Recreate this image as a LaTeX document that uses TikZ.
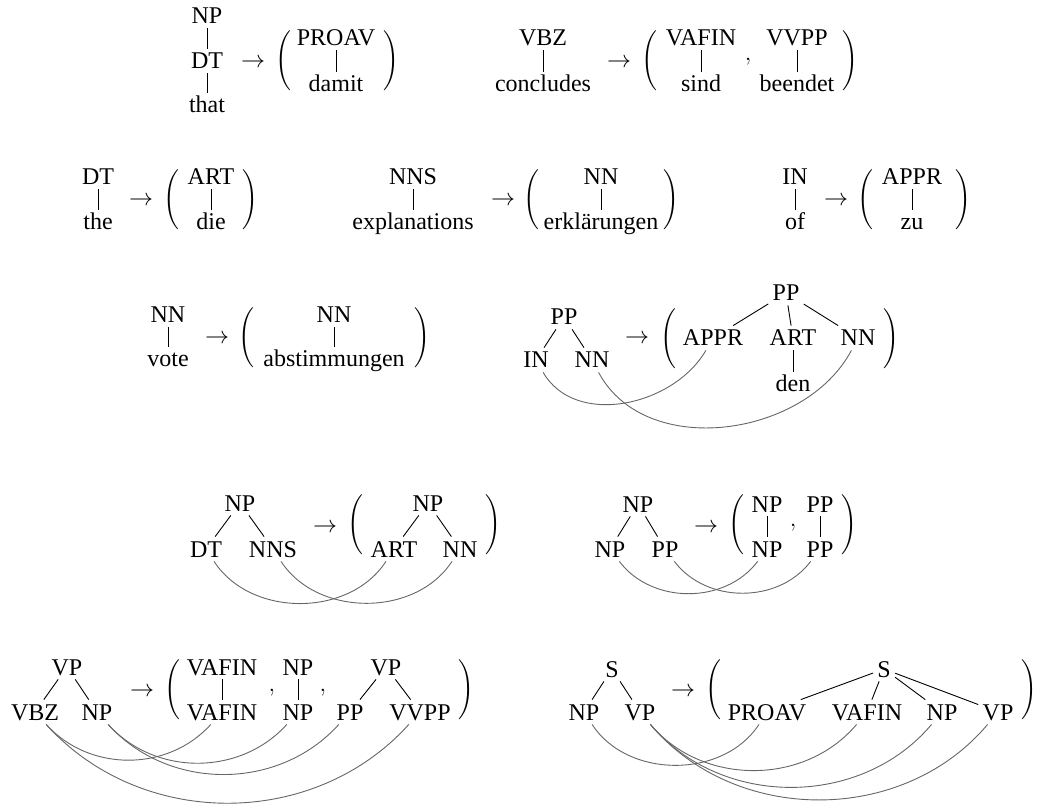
\documentclass[tikz,border=0pt]{standalone}
\usepackage{fontspec}
\setmainfont{Liberation Serif}
% large round brackets around the target side of each rule
\newcommand\mylp{$\nulldelimiterspace=0pt\left(\vcenter{\hbox{\rule{0pt}{30pt}}}\right.$}
\newcommand\myrp{$\nulldelimiterspace=0pt\left.\vcenter{\hbox{\rule{0pt}{30pt}}}\right)$}
\begin{document}
\begin{tikzpicture}[x=0.5pt,y=0.5pt,
  every node/.style={font=\fontsize{12}{14}\selectfont},
  lab/.style={inner sep=2pt, text height=8pt, text depth=0pt, anchor=base},
  arr/.style={inner sep=0pt, anchor=base},
  delim/.style={inner sep=0pt, anchor=center},
  edge/.style={draw=black, line width=0.45pt},
  link/.style={draw=black!60, line width=0.45pt}]
\useasboundingbox (0,0) rectangle (1037,-806);

% ---------- NP/DT/that -> PROAV/damit ----------
\node[lab] (r1np) at (207,-24) {NP};
\node[lab] (r1dt) at (207,-69) {DT};
\node[lab] (r1that) at (207,-113) {that};
\node[arr] (r1arr) at (253,-68) {$\rightarrow$};
\node[delim] (r1l) at (283,-61) {\mylp};
\node[lab] (r1proav) at (336,-46) {PROAV};
\node[lab] (r1damit) at (336,-92) {damit};
\node[delim] (r1r) at (391,-61) {\myrp};
\draw[edge] (r1np) -- (r1dt);
\draw[edge] (r1dt) -- (r1that);
\draw[edge] (r1proav) -- (r1damit);

% ---------- VBZ/concludes -> VAFIN/sind , VVPP/beendet ----------
\node[lab] (r2vbz) at (543,-46) {VBZ};
\node[lab] (r2concl) at (543,-92) {concludes};
\node[arr] (r2arr) at (619,-68) {$\rightarrow$};
\node[delim] (r2l) at (649,-61) {\mylp};
\node[lab] (r2vafin) at (701,-46) {VAFIN};
\node[lab] (r2sind) at (701,-92) {sind};
\node[arr] (r2c) at (748,-61) {$,$};
\node[lab] (r2vvpp) at (797,-46) {VVPP};
\node[lab] (r2beendet) at (797,-92) {beendet};
\node[delim] (r2r) at (850,-61) {\myrp};
\draw[edge] (r2vbz) -- (r2concl);
\draw[edge] (r2vafin) -- (r2sind);
\draw[edge] (r2vvpp) -- (r2beendet);

% ---------- DT/the -> ART/die ----------
\node[lab] (r3dt) at (98,-185) {DT};
\node[lab] (r3the) at (98,-230) {the};
\node[arr] (r3arr) at (141,-206) {$\rightarrow$};
\node[delim] (r3l) at (171,-200) {\mylp};
\node[lab] (r3art) at (211,-185) {ART};
\node[lab] (r3die) at (211,-230) {die};
\node[delim] (r3r) at (250,-200) {\myrp};
\draw[edge] (r3dt) -- (r3the);
\draw[edge] (r3art) -- (r3die);

% ---------- NNS/explanations -> NN/erklärungen ----------
\node[lab] (r4nns) at (413,-185) {NNS};
\node[lab] (r4expl) at (413,-230) {explanations};
\node[arr] (r4arr) at (503,-206) {$\rightarrow$};
\node[delim] (r4l) at (531,-200) {\mylp};
\node[lab] (r4nn) at (601,-185) {NN};
\node[lab] (r4erkl) at (601,-230) {erklärungen};
\node[delim] (r4r) at (671,-200) {\myrp};
\draw[edge] (r4nns) -- (r4expl);
\draw[edge] (r4nn) -- (r4erkl);

% ---------- IN/of -> APPR/zu ----------
\node[lab] (r5in) at (795,-185) {IN};
\node[lab] (r5of) at (795,-230) {of};
\node[arr] (r5arr) at (836,-206) {$\rightarrow$};
\node[delim] (r5l) at (865,-200) {\mylp};
\node[lab] (r5appr) at (912,-185) {APPR};
\node[lab] (r5zu) at (912,-230) {zu};
\node[delim] (r5r) at (963,-200) {\myrp};
\draw[edge] (r5in) -- (r5of);
\draw[edge] (r5appr) -- (r5zu);

% ---------- NN/vote -> NN/abstimmungen ----------
\node[lab] (r6nn) at (168,-323) {NN};
\node[lab] (r6vote) at (168,-367) {vote};
\node[arr] (r6arr) at (217,-344) {$\rightarrow$};
\node[delim] (r6l) at (246.5,-338) {\mylp};
\node[lab] (r6nnb) at (334,-323) {NN};
\node[lab] (r6abst) at (334,-367) {abstimmungen};
\node[delim] (r6r) at (422,-338) {\myrp};
\draw[edge] (r6nn) -- (r6vote);
\draw[edge] (r6nnb) -- (r6abst);

% ---------- PP(IN NN) -> PP(APPR ART(den) NN) ----------
\node[lab] (r7pp) at (564,-325) {PP};
\node[lab] (r7in) at (536,-368) {IN};
\node[lab] (r7nn) at (592,-368) {NN};
\node[arr] (r7arr) at (637,-344) {$\rightarrow$};
\node[delim] (r7l) at (668.5,-339) {\mylp};
\node[lab] (r7ppb) at (786,-301) {PP};
\node[lab] (r7appr) at (713,-346) {APPR};
\node[lab] (r7art) at (793,-346) {ART};
\node[lab] (r7nnb) at (858,-346) {NN};
\node[lab] (r7den) at (793,-392) {den};
\node[delim] (r7r) at (891,-339) {\myrp};
\draw[edge] (r7pp) -- (r7in);
\draw[edge] (r7pp) -- (r7nn);
\draw[edge] (r7ppb) -- (r7appr);
\draw[edge] (r7ppb) -- (r7art);
\draw[edge] (r7ppb) -- (r7nnb);
\draw[edge] (r7art) -- (r7den);
\draw[link] (r7in) to[out=-60,in=-120] (r7appr);
\draw[link] (r7nn) to[out=-62,in=-118] (r7nnb);

% ---------- NP(DT NNS) -> NP(ART NN) ----------
\node[lab] (r8np) at (240,-511) {NP};
\node[lab] (r8dt) at (206,-557) {DT};
\node[lab] (r8nns) at (273,-557) {NNS};
\node[arr] (r8arr) at (325,-532) {$\rightarrow$};
\node[delim] (r8l) at (355,-525) {\mylp};
\node[lab] (r8npb) at (428,-511) {NP};
\node[lab] (r8art) at (394,-557) {ART};
\node[lab] (r8nn) at (460,-557) {NN};
\node[delim] (r8r) at (493.5,-525) {\myrp};
\draw[edge] (r8np) -- (r8dt);
\draw[edge] (r8np) -- (r8nns);
\draw[edge] (r8npb) -- (r8art);
\draw[edge] (r8npb) -- (r8nn);
\draw[link] (r8dt) to[out=-57,in=-123] (r8art);
\draw[link] (r8nns) to[out=-57,in=-123] (r8nn);

% ---------- NP(NP PP) -> NP/NP , PP/PP ----------
\node[lab] (r9np) at (638,-512) {NP};
\node[lab] (r9npa) at (610,-557) {NP};
\node[lab] (r9ppa) at (665,-557) {PP};
\node[arr] (r9arr) at (706,-532) {$\rightarrow$};
\node[delim] (r9l) at (736.5,-525) {\mylp};
\node[lab] (r9npt) at (767,-512) {NP};
\node[lab] (r9npb) at (767,-557) {NP};
\node[arr] (r9c) at (793,-526) {$,$};
\node[lab] (r9ppt) at (820,-512) {PP};
\node[lab] (r9ppb) at (820,-557) {PP};
\node[delim] (r9r) at (849,-525) {\myrp};
\draw[edge] (r9np) -- (r9npa);
\draw[edge] (r9np) -- (r9ppa);
\draw[edge] (r9npt) -- (r9npb);
\draw[edge] (r9ppt) -- (r9ppb);
\draw[link] (r9npa) to[out=-53,in=-127] (r9npb);
\draw[link] (r9ppa) to[out=-53,in=-127] (r9ppb);

% ---------- VP(VBZ NP) -> VAFIN/VAFIN , NP/NP , VP(PP VVPP) ----------
\node[lab] (r10vp) at (67,-675) {VP};
\node[lab] (r10vbz) at (35,-720) {VBZ};
\node[lab] (r10np) at (97,-720) {NP};
\node[arr] (r10arr) at (142,-696) {$\rightarrow$};
\node[delim] (r10l) at (172.5,-690) {\mylp};
\node[lab] (r10vafint) at (222,-675) {VAFIN};
\node[lab] (r10vafinb) at (222,-720) {VAFIN};
\node[arr] (r10ca) at (272,-691) {$,$};
\node[lab] (r10npt) at (298,-675) {NP};
\node[lab] (r10npb) at (298,-720) {NP};
\node[arr] (r10cb) at (323,-691) {$,$};
\node[lab] (r10vpb) at (386,-675) {VP};
\node[lab] (r10pp) at (350,-720) {PP};
\node[lab] (r10vvpp) at (420,-720) {VVPP};
\node[delim] (r10r) at (466.5,-690) {\myrp};
\draw[edge] (r10vp) -- (r10vbz);
\draw[edge] (r10vp) -- (r10np);
\draw[edge] (r10vafint) -- (r10vafinb);
\draw[edge] (r10npt) -- (r10npb);
\draw[edge] (r10vpb) -- (r10pp);
\draw[edge] (r10vpb) -- (r10vvpp);
\draw[link] (r10vbz) to[out=-48,in=-132] (r10vafinb);
\draw[link] (r10vbz) to[out=-48,in=-132] (r10vvpp);
\draw[link] (r10np) to[out=-48,in=-132] (r10npb);
\draw[link] (r10np) to[out=-48,in=-132] (r10pp);

% ---------- S(NP VP) -> S(PROAV VAFIN NP VP) ----------
\node[lab] (r11s) at (612,-677) {S};
\node[lab] (r11np) at (584,-720) {NP};
\node[lab] (r11vp) at (640,-720) {VP};
\node[arr] (r11arr) at (683,-696) {$\rightarrow$};
\node[delim] (r11l) at (713.5,-690) {\mylp};
\node[lab] (r11sb) at (884,-677) {S};
\node[lab] (r11proav) at (767,-720) {PROAV};
\node[lab] (r11vafin) at (867,-720) {VAFIN};
\node[lab] (r11npb) at (942,-720) {NP};
\node[lab] (r11vpb) at (998,-720) {VP};
\node[delim] (r11r) at (1029,-690) {\myrp};
\draw[edge] (r11s) -- (r11np);
\draw[edge] (r11s) -- (r11vp);
\draw[edge] (r11sb) -- (r11proav);
\draw[edge] (r11sb) -- (r11vafin);
\draw[edge] (r11sb) -- (r11npb);
\draw[edge] (r11sb) -- (r11vpb);
\draw[link] (r11np) to[out=-57,in=-123] (r11proav);
\draw[link] (r11vp) to[out=-50,in=-130] (r11vafin);
\draw[link] (r11vp) to[out=-50,in=-130] (r11npb);
\draw[link] (r11vp) to[out=-50,in=-130] (r11vpb);
\end{tikzpicture}
\end{document}
